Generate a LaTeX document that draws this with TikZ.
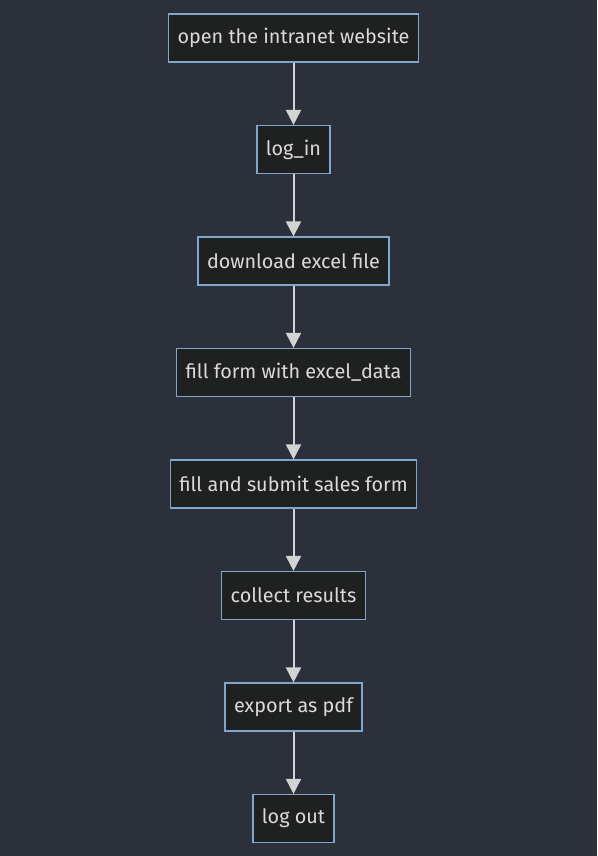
\documentclass[tikz,border=0pt]{standalone}
\usepackage{fontspec}
\setmainfont{Fira Sans}
\usetikzlibrary{positioning,arrows.meta}
\definecolor{bgcol}{HTML}{2B303B}
\definecolor{boxfill}{HTML}{1F2020}
\definecolor{boxline}{HTML}{7FA6CC}
\definecolor{txtcol}{HTML}{DADADA}
\definecolor{arrcol}{HTML}{D3D3D3}

\begin{document}
\begin{tikzpicture}[x=1pt, y=1pt,
    stepbox/.style={draw=boxline, line width=1.2pt, fill=boxfill, text=txtcol,
        minimum height=48pt, inner xsep=9pt,
        font=\fontsize{19.8}{22}\selectfont},
    flow/.style={draw=arrcol, line width=2pt, -{Triangle[length=15pt,width=15pt]}},
    node distance=62.3pt]
    \fill [bgcol] (0,0) rectangle (597,-856);
    \useasboundingbox (0,0) rectangle (597,-856);

    \node [stepbox] (open) at (293.5,-38) {open the intranet website};
    \node [stepbox, below=of open] (login) {log\_in};
    \node [stepbox, below=of login] (download) {download excel file};
    \node [stepbox, below=of download] (fillform) {fill form with excel\_data};
    \node [stepbox, below=of fillform] (submit) {fill and submit sales form};
    \node [stepbox, below=of submit] (collect) {collect results};
    \node [stepbox, below=of collect] (export) {export as pdf};
    \node [stepbox, below=of export] (logout) {log out};

    \draw [flow] (open) -- (login);
    \draw [flow] (login) -- (download);
    \draw [flow] (download) -- (fillform);
    \draw [flow] (fillform) -- (submit);
    \draw [flow] (submit) -- (collect);
    \draw [flow] (collect) -- (export);
    \draw [flow] (export) -- (logout);
\end{tikzpicture}
\end{document}
